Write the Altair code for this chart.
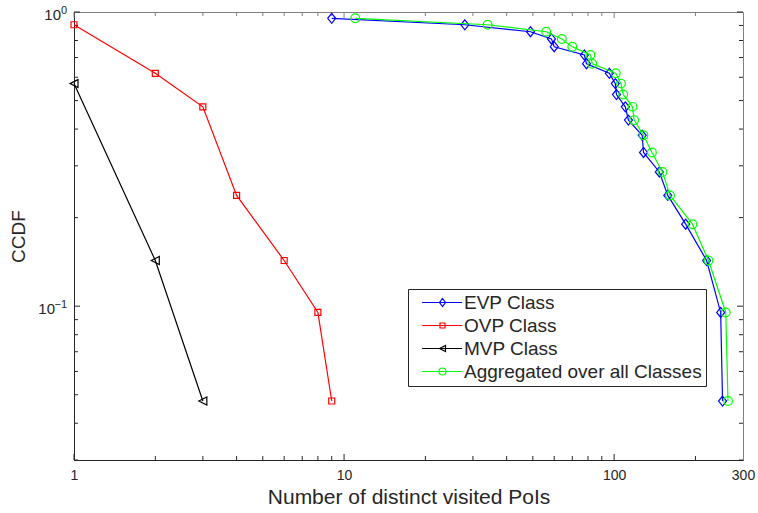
import altair as alt
import pandas as pd

# ---------------- data ----------------
evp_x = [9, 28, 49, 58.6, 60, 77.6, 79, 96, 101, 102, 110, 113, 127, 128.5, 147, 158, 184, 220, 248, 252]
evp_y = [0.952, 0.905, 0.857, 0.810, 0.762, 0.714, 0.667, 0.619, 0.571, 0.524,
         0.476, 0.429, 0.381, 0.333, 0.286, 0.238, 0.190, 0.143, 0.0952, 0.0476]

ovp_x = [1, 2, 3, 4, 6, 8, 9]
ovp_y = [0.905, 0.619, 0.476, 0.238, 0.143, 0.0952, 0.0476]

mvp_x = [1, 2, 3]
mvp_y = [0.571, 0.143, 0.0476]

agg_x = [11, 34, 56, 64, 70, 81.7, 83, 101.4, 106, 108, 117, 118.6, 128.4, 138, 151, 161, 195, 223.5, 259, 264]
agg_y = [0.952, 0.905, 0.857, 0.810, 0.762, 0.714, 0.667, 0.619, 0.571, 0.524,
         0.476, 0.429, 0.381, 0.333, 0.286, 0.238, 0.190, 0.143, 0.0952, 0.0476]

series_names = ["EVP Class", "OVP Class", "MVP Class", "Aggregated over all Classes"]
series_colors = ["#0000ff", "#ff0000", "#000000", "#00ff00"]

x_tick_labels = [1, 10, 100, 300]
x_major_ticks = [1, 10, 100]
x_minor_ticks = [2, 3, 4, 5, 6, 7, 8, 9, 20, 30, 40, 50, 60, 70, 80, 90, 200]
y_tick_labels = [1, 0.1]
y_tick_exponents = ["0", "\u22121"]
y_major_ticks = [1, 0.1]
y_minor_ticks = [0.03, 0.04, 0.05, 0.06, 0.07, 0.08, 0.09,
                 0.2, 0.3, 0.4, 0.5, 0.6, 0.7, 0.8, 0.9]

# ---------------- styling ----------------
W, H = 669, 448
FONT = "Liberation Sans"
TXT = "#262626"
MAJ, MIN = 6, 4

marker_paths = {
    "EVP Class": "M0,-1.25L1,0L0,1.25L-1,0Z",
    "OVP Class": "M-1,-1H1V1H-1Z",
    "MVP Class": "M-1,0L1,-1L1,1Z",
    "Aggregated over all Classes": "M1,0A1,1,0,1,1,-1,0A1,1,0,1,1,1,0Z",
}
marker_sizes = {"EVP Class": 64, "OVP Class": 36, "MVP Class": 64, "Aggregated over all Classes": 76}

legend_paths = [
    "M-5.1,0H4.9M0,-1L0.75,0L0,1L-0.75,0Z",
    "M-5.1,0H4.9M-0.625,-0.625H0.625V0.625H-0.625Z",
    "M-5.1,0H4.9M-0.75,0L0.75,-0.75L0.75,0.75Z",
    "M-5.1,0H4.9M0.875,0A0.875,0.875,0,1,1,-0.875,0A0.875,0.875,0,1,1,0.875,0Z",
]

# ---------------- tables ----------------
rows = []
for name, xs, ys in zip(series_names, [evp_x, ovp_x, mvp_x, agg_x], [evp_y, ovp_y, mvp_y, agg_y]):
    for i, (xv, yv) in enumerate(zip(xs, ys)):
        rows.append({"series": name, "x": xv, "y": yv, "i": i})
df = pd.DataFrame(rows)

xt_major = pd.DataFrame({"v": x_major_ticks})
xt_minor = pd.DataFrame({"v": x_minor_ticks})
yt_major = pd.DataFrame({"v": y_major_ticks})
yt_minor = pd.DataFrame({"v": y_minor_ticks})
legend_df = pd.DataFrame({"series": series_names})

xscale = alt.Scale(type="log", domain=[1, 300], nice=False)
yscale = alt.Scale(type="log", domain=[0.03, 1], nice=False)

xaxis = alt.Axis(values=x_tick_labels, format="d", ticks=False, grid=False,
                 domainColor=TXT, domainWidth=1, labelFont=FONT, labelFontSize=14,
                 labelColor=TXT, labelPadding=8, title="Number of distinct visited PoIs",
                 titleFont=FONT, titleFontSize=21, titleFontWeight="normal",
                 titleColor=TXT, titlePadding=4, labelFlush=False)
yaxis = alt.Axis(values=y_tick_labels, ticks=False, grid=False, labels=False,
                 domainColor=TXT, domainWidth=1, title="CCDF", titleFont=FONT,
                 titleFontSize=19, titleFontWeight="normal", titleColor=TXT,
                 titlePadding=46)

X = alt.X("x:Q", scale=xscale, axis=xaxis)
Y = alt.Y("y:Q", scale=yscale, axis=yaxis)
XV = alt.X("v:Q", scale=xscale, axis=xaxis)
YV = alt.Y("v:Q", scale=yscale, axis=yaxis)

layers = []

# inward ticks (bottom / top / left / right)
for data, ln in [(xt_major, MAJ), (xt_minor, MIN)]:
    layers.append(alt.Chart(data).mark_rule(color=TXT, strokeWidth=1).encode(
        x=XV, y=alt.value(H), y2=alt.value(H - ln)))
    layers.append(alt.Chart(data).mark_rule(color="#808080", strokeWidth=1).encode(
        x=XV, y=alt.value(0), y2=alt.value(ln)))
for data, ln in [(yt_major, MAJ), (yt_minor, MIN)]:
    layers.append(alt.Chart(data).mark_rule(color=TXT, strokeWidth=1).encode(
        y=YV, x=alt.value(0), x2=alt.value(ln)))
    layers.append(alt.Chart(data).mark_rule(color=TXT, strokeWidth=1).encode(
        y=YV, x=alt.value(W), x2=alt.value(W - ln)))

# y tick labels "10" with superscript exponent
for val, ex in zip(y_tick_labels, y_tick_exponents):
    ew = 6 if len(ex) == 1 else 12
    d = pd.DataFrame({"v": [val], "base": ["10"], "exp": [ex]})
    layers.append(alt.Chart(d).mark_text(font=FONT, fontSize=15, color=TXT, align="right",
                                         baseline="alphabetic", dy=8).encode(
        y=YV, x=alt.value(-7 - ew), text="base:N"))
    layers.append(alt.Chart(d).mark_text(font=FONT, fontSize=11, color=TXT, align="right",
                                         baseline="alphabetic", dy=2).encode(
        y=YV, x=alt.value(-7), text="exp:N"))

# series
for name, col in zip(series_names, series_colors):
    base = alt.Chart(df).transform_filter(alt.datum.series == name)
    layers.append(base.mark_line(color=col, strokeWidth=1.2).encode(x=X, y=Y, order="i:Q"))
    layers.append(base.mark_point(shape=marker_paths[name], size=marker_sizes[name],
                                  filled=False, color=col, strokeWidth=1.2, opacity=1)
                  .encode(x=X, y=Y))

# legend carrier (no visible points)
layers.append(alt.Chart(legend_df).transform_filter("false").mark_point(
    filled=False, strokeWidth=1.2, opacity=1, size=64).encode(
    color=alt.Color("series:N", scale=alt.Scale(domain=series_names, range=series_colors), title=None),
    shape=alt.Shape("series:N", scale=alt.Scale(domain=series_names, range=legend_paths), title=None),
))

chart = alt.layer(*layers).properties(
    width=W, height=H,
    padding={"left": 74, "top": 12, "right": 15, "bottom": 53},
    autosize=alt.AutoSizeParams(type="none"),
).configure_view(stroke="#808080", strokeWidth=1).configure_legend(
    orient="none", legendX=334, legendY=277, strokeColor=TXT, fillColor="white",
    padding=4, labelFont=FONT, labelFontSize=19, labelColor=TXT, symbolSize=64,
    symbolOffset=21, labelOffset=12, rowPadding=3, symbolStrokeWidth=1.2,
    symbolFillColor="transparent", cornerRadius=0, labelLimit=400,
)

chart.save("out.html", embed_options={"renderer": "svg", "actions": False})
